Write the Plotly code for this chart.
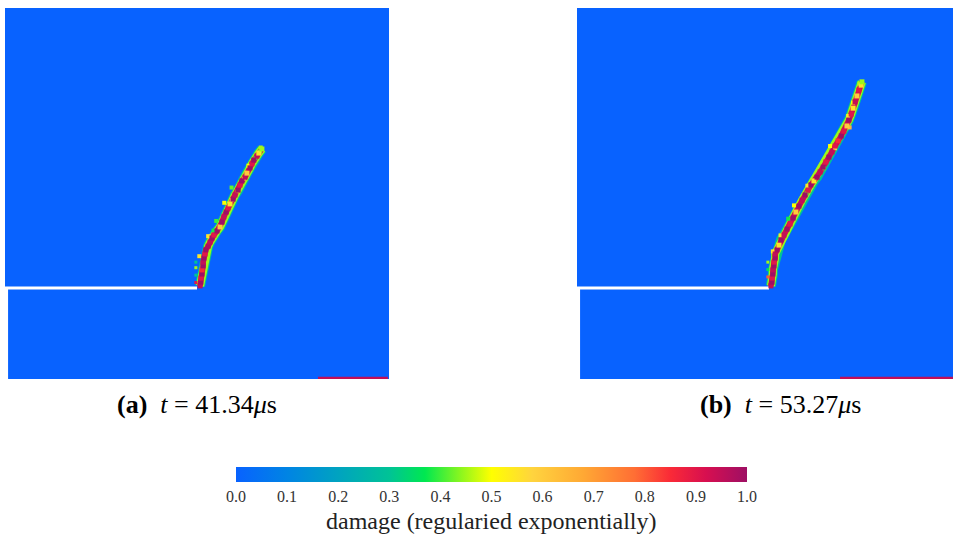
import plotly.graph_objects as go
from plotly.colors import sample_colorscale

# ---------------- data ----------------
# specimen coordinates (mm), specimen 100 x 100, notch along y = 24.5 from x = 0 to 50
notch_x = [0.0, 50.0]
notch_y = [24.5, 24.5]

# crack path, panel (a) t = 41.34 us
crack_a_x = [50.8, 51.0, 51.0, 51.3, 51.3, 51.6, 51.6, 51.8, 52.1, 52.3, 52.9, 53.4, 53.9, 54.4,
             55.2, 56.0, 56.5, 57.0, 57.6, 58.1, 58.6, 59.4, 59.9, 60.7, 61.2, 61.7, 62.5, 63.0,
             63.8, 64.3, 64.8, 65.6, 66.1, 66.9]
crack_a_y = [25.1, 26.1, 27.2, 28.3, 29.4, 30.5, 31.5, 32.6, 33.7, 34.8, 35.8, 36.9, 38.0, 38.8,
             39.9, 41.0, 42.3, 43.7, 45.0, 46.1, 47.2, 48.5, 49.6, 50.9, 52.3, 53.4, 54.4, 55.5,
             56.9, 58.0, 59.0, 60.1, 60.9, 62.0]
damage_a = [0.95, 1.0, 0.9, 1.0, 0.85, 1.0, 0.95, 1.0, 0.9, 1.0, 0.98, 0.95, 1.0, 0.9,
            1.0, 0.6, 1.0, 0.95, 1.0, 0.9, 0.55, 1.0, 0.95, 1.0, 0.9, 1.0, 0.95, 0.6,
            1.0, 0.9, 1.0, 0.95, 0.55, 0.45]
# partially damaged elements along the crack flanks, panel (a)
fringe_a_x = [50.6, 52.9, 55.0, 57.1, 59.0, 59.0, 62.2, 63.4, 65.2, 66.6, 54.3, 60.6, 66.4]
fringe_a_y = [33.1, 38.5, 42.6, 47.5, 51.6, 48.3, 54.0, 57.5, 59.6, 62.4, 40.0, 50.6, 61.3]
fringe_d_a = [0.55, 0.55, 0.4, 0.5, 0.42, 0.62, 0.55, 0.5, 0.4, 0.45, 0.38, 0.52, 0.42]

# crack path, panel (b) t = 53.27 us
crack_b_x = [50.5, 50.8, 50.8, 51.0, 51.0, 51.3, 51.3, 51.6, 51.6, 52.1, 52.6, 53.1, 53.9, 54.7,
             55.5, 56.3, 57.0, 57.8, 58.6, 59.4, 60.2, 60.9, 61.7, 62.5, 63.3, 64.1, 64.8, 65.6,
             66.4, 67.2, 68.0, 68.8, 69.5, 70.3, 70.8, 71.4, 71.9, 72.4, 72.9, 73.4, 74.0, 74.2]
crack_b_y = [25.1, 26.1, 27.2, 28.3, 29.4, 30.5, 31.5, 32.6, 33.7, 34.8, 36.1, 37.5, 38.8, 40.4,
             41.8, 43.4, 45.0, 46.6, 48.2, 49.6, 50.9, 52.3, 53.4, 54.4, 55.8, 57.1, 58.5, 59.8,
             61.2, 62.8, 64.2, 65.5, 66.8, 68.2, 69.8, 71.4, 73.0, 74.7, 76.3, 77.9, 79.2, 80.1]
damage_b = [0.95, 1.0, 0.9, 1.0, 0.95, 1.0, 0.9, 1.0, 0.95, 1.0, 0.55, 1.0, 0.95, 1.0,
            0.9, 1.0, 0.6, 1.0, 0.95, 1.0, 0.9, 1.0, 0.55, 1.0, 0.95, 1.0, 0.9, 1.0,
            0.95, 0.9, 0.85, 1.0, 0.9, 0.6, 1.0, 0.9, 0.55, 0.95, 0.6, 0.9, 0.55, 0.45]
# partially damaged elements along the crack flanks, panel (b)
fringe_b_x = [51.0, 53.0, 56.5, 60.0, 64.3, 65.9, 70.6, 71.9, 73.5, 71.0, 55.0, 59.8, 67.2]
fringe_b_y = [34.4, 38.7, 46.8, 52.1, 56.8, 62.8, 70.9, 74.5, 79.6, 67.8, 43.2, 50.0, 62.2]
fringe_d_b = [0.55, 0.55, 0.5, 0.55, 0.42, 0.5, 0.55, 0.5, 0.45, 0.65, 0.38, 0.42, 0.6]

# faint secondary branch beside the notch tip
branch_a_x = [49.7, 49.7, 49.7, 49.7]
branch_a_y = [26.0, 28.0, 30.0, 31.5]
branch_a_d = [0.9, 0.3, 0.45, 0.3]
branch_b_x = [49.7, 49.7, 49.7]
branch_b_y = [27.5, 29.5, 31.5]
branch_b_d = [0.8, 0.35, 0.45]

# damaged strip at the bottom boundary
strip_a_x = [81.5, 99.7]
strip_b_x = [68.5, 97.9]
strip_y = [0.3, 0.3]
strip_damage = 0.95

colorbar_ticks = [0.0, 0.1, 0.2, 0.3, 0.4, 0.5, 0.6, 0.7, 0.8, 0.9, 1.0]
captions = ["<b>(a)</b>  <i>t</i> = 41.34<i>μ</i>s", "<b>(b)</b>  <i>t</i> = 53.27<i>μ</i>s"]
colorbar_title = "damage (regularied exponentially)"

colorscale = [
    [0.00, "rgb(8,98,255)"],
    [0.10, "rgb(0,132,228)"],
    [0.20, "rgb(0,163,192)"],
    [0.30, "rgb(0,195,150)"],
    [0.37, "rgb(0,232,80)"],
    [0.44, "rgb(140,246,30)"],
    [0.50, "rgb(255,255,0)"],
    [0.58, "rgb(255,212,62)"],
    [0.68, "rgb(255,168,52)"],
    [0.78, "rgb(255,110,52)"],
    [0.85, "rgb(250,42,55)"],
    [0.92, "rgb(215,15,80)"],
    [1.00, "rgb(158,15,100)"],
]

def cs(v):
    return sample_colorscale(colorscale, [v])[0]

fig = go.Figure()

W, H = 953, 537
panels = [
    dict(xa="x", ya="y", cx=crack_a_x, cy=crack_a_y, cd=damage_a,
         fx=fringe_a_x, fy=fringe_a_y, fd=fringe_d_a,
         bx=branch_a_x, by=branch_a_y, bd=branch_a_d, sx=strip_a_x),
    dict(xa="x2", ya="y2", cx=crack_b_x, cy=crack_b_y, cd=damage_b,
         fx=fringe_b_x, fy=fringe_b_y, fd=fringe_d_b,
         bx=branch_b_x, by=branch_b_y, bd=branch_b_d, sx=strip_b_x),
]

for p in panels:
    # notch (traction-free slit)
    fig.add_trace(go.Scatter(x=notch_x, y=notch_y, mode="lines", xaxis=p["xa"], yaxis=p["ya"],
                             line=dict(color="white", width=3), hoverinfo="skip", showlegend=False))
    # crack halo layers
    for v, w in [(0.3, 10), (0.45, 8), (0.93, 5.5)]:
        fig.add_trace(go.Scatter(x=p["cx"], y=p["cy"], mode="lines", xaxis=p["xa"], yaxis=p["ya"],
                                 line=dict(color=cs(v), width=w), hoverinfo="skip", showlegend=False))
    # flank elements
    fig.add_trace(go.Scatter(x=p["fx"], y=p["fy"], mode="markers", xaxis=p["xa"], yaxis=p["ya"],
                             marker=dict(symbol="square", size=4, color=p["fd"], coloraxis="coloraxis",
                                         line=dict(width=0)),
                             hoverinfo="skip", showlegend=False))
    # crack elements
    fig.add_trace(go.Scatter(x=p["cx"], y=p["cy"], mode="markers", xaxis=p["xa"], yaxis=p["ya"],
                             marker=dict(symbol="square", size=5, color=p["cd"], coloraxis="coloraxis",
                                         line=dict(width=0)),
                             hoverinfo="skip", showlegend=False))
    fig.add_trace(go.Scatter(x=p["bx"], y=p["by"], mode="markers", xaxis=p["xa"], yaxis=p["ya"],
                             marker=dict(symbol="square", size=3, color=p["bd"], coloraxis="coloraxis",
                                         line=dict(width=0)),
                             hoverinfo="skip", showlegend=False))
    # bottom boundary strip
    fig.add_trace(go.Scatter(x=p["sx"], y=strip_y, mode="lines", xaxis=p["xa"], yaxis=p["ya"],
                             line=dict(color=cs(strip_damage), width=2.5), hoverinfo="skip",
                             showlegend=False))

# white gap at the lower-left of each specimen (lower block is slightly offset)
for xr, yr in [("x", "y"), ("x2", "y2")]:
    fig.add_shape(type="rect", xref=xr, yref=yr, x0=-1, x1=0.8, y0=-1, y1=24.5,
                  fillcolor="white", line_width=0, layer="above")

ydom = [1 - 379 / H, 1 - 8 / H]
fig.update_layout(
    width=W, height=H,
    margin=dict(l=0, r=0, t=0, b=0),
    paper_bgcolor="white",
    plot_bgcolor=colorscale[0][1],
    xaxis=dict(domain=[5 / W, 389 / W], range=[0, 100], visible=False, fixedrange=True),
    yaxis=dict(domain=ydom, range=[0, 100], visible=False, fixedrange=True),
    xaxis2=dict(domain=[577 / W, 1.0], range=[0, (W - 577) / 3.84], visible=False, fixedrange=True),
    yaxis2=dict(domain=ydom, range=[0, 100], visible=False, fixedrange=True),
    coloraxis=dict(
        colorscale=colorscale, cmin=0, cmax=1,
        colorbar=dict(
            orientation="h", lenmode="pixels", len=511, thickness=15,
            x=(236 + 747) / 2 / W, xanchor="center",
            y=1 - 467 / H, yanchor="top", xpad=0, ypad=0,
            outlinewidth=0, ticks="", tickvals=colorbar_ticks,
            ticktext=[f"{t:.1f}" for t in colorbar_ticks],
            tickfont=dict(family="Liberation Serif", size=16, color="#333333"),
        ),
    ),
    showlegend=False,
)

for cap, xc in zip(captions, [197, 780]):
    fig.add_annotation(text=cap, x=xc / W, y=1 - 404 / H, xref="paper", yref="paper",
                       showarrow=False, xanchor="center", yanchor="middle",
                       font=dict(family="Liberation Serif", size=26, color="black"))

fig.add_annotation(text=colorbar_title, x=491 / W, y=1 - 521 / H, xref="paper", yref="paper",
                   showarrow=False, xanchor="center", yanchor="middle",
                   font=dict(family="Liberation Serif", size=24, color="#222222"))

fig.write_html("out.html", config={"displayModeBar": False},
               post_script="document.body.style.margin='0';")
